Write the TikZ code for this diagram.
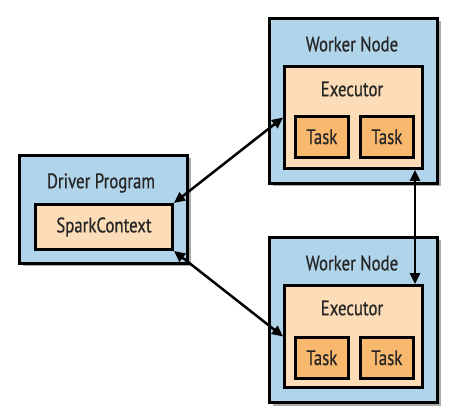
\documentclass[tikz,border=0pt]{standalone}
\usepackage{fontspec}
\setmainfont[FakeStretch=0.8,FakeBold=0.6]{PT Sans}
\usetikzlibrary{shadows,arrows.meta}
\definecolor{wblue}{HTML}{B0D4EA}
\definecolor{peach}{HTML}{FDDDB8}
\definecolor{torange}{HTML}{F8B86E}
\tikzset{
  outerbox/.style={draw=black, line width=3pt, fill=wblue, anchor=north west, inner sep=0pt,
    drop shadow={shadow xshift=3pt, shadow yshift=-3pt, fill=black!55, opacity=0.6}},
  execbox/.style={draw=black, line width=3pt, fill=peach, anchor=north west, inner sep=0pt},
  taskbox/.style={draw=black, line width=2.6pt, fill=torange, anchor=north west, inner sep=0pt,
    minimum width=53pt, minimum height=41pt, font=\fontsize{21}{24}\selectfont, text=black!85},
  lbl/.style={font=\fontsize{21}{24}\selectfont, inner sep=0pt, text=black!85},
  conn/.style={line width=2.5pt, {Triangle[length=11pt,width=10pt]}-{Triangle[length=11pt,width=10pt]}}
}
\begin{document}
\begin{tikzpicture}[x=1pt,y=-1pt]
\useasboundingbox (0,0) rectangle (457,419);
% driver
\node[outerbox, minimum width=168pt, minimum height=108pt] (drv) at (18,154) {};
\node[lbl] (drvl) at (101,183) {Driver Program};
\node[execbox, minimum width=137pt, minimum height=45pt, font=\fontsize{21}{24}\selectfont, text=black!85] (sc) at (34,203) {SparkContext};
% top worker
\node[outerbox, minimum width=168pt, minimum height=165pt] (w1) at (268,17) {};
\node[lbl] (w1l) at (352,44) {Worker Node};
\node[execbox, minimum width=138pt, minimum height=102pt] (ex1) at (283,65) {};
\node[lbl] (ex1l) at (352,89) {Executor};
\node[taskbox] (t11) at (294,115) {Task};
\node[taskbox] (t12) at (359,115) {Task};
% bottom worker
\node[outerbox, minimum width=168pt, minimum height=165pt] (w2) at (268,236) {};
\node[lbl] (w2l) at (352,263) {Worker Node};
\node[execbox, minimum width=138pt, minimum height=102pt] (ex2) at (283,284) {};
\node[lbl] (ex2l) at (352,308) {Executor};
\node[taskbox] (t21) at (294,336) {Task};
\node[taskbox] (t22) at (359,336) {Task};
% connectors
\draw[conn] (sc.north east) -- (ex1.west);
\draw[conn] (sc.south east) -- (ex2.west);
\draw[conn] ([xshift=-9pt]ex1.south east) -- ([xshift=-9pt]ex2.north east);
\end{tikzpicture}
\end{document}
